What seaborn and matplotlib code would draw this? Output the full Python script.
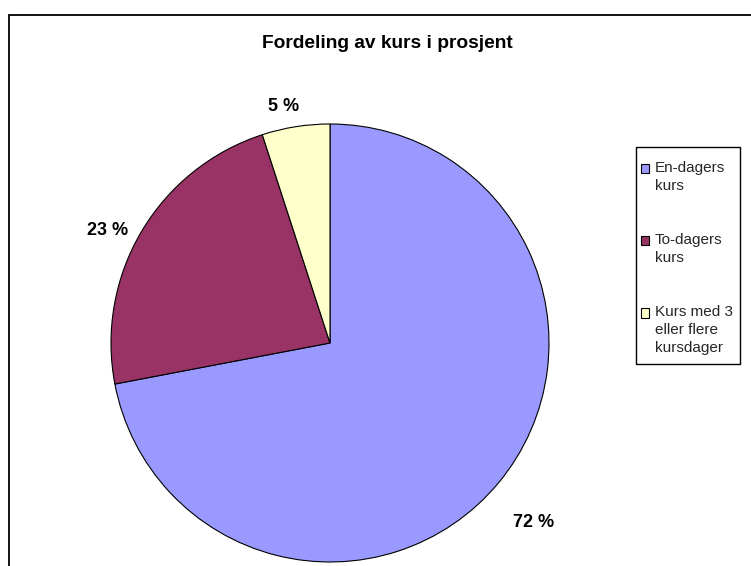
import matplotlib
matplotlib.use("Agg")
import matplotlib.pyplot as plt
from matplotlib.patches import Rectangle
from matplotlib.legend_handler import HandlerPatch
import numpy as np
import seaborn as sns

# Course distribution (percent)
categories = ["En-dagers\nkurs", "To-dagers\nkurs", "Kurs med 3\neller flere\nkursdager"]
shares = [72, 23, 5]
value_labels = ["72 %", "23 %", "5 %"]
title = "Fordeling av kurs i prosjent"

sns.set_theme(style="white")
plt.rcParams["font.family"] = ["Liberation Sans", "DejaVu Sans"]

palette = sns.color_palette(["#9999FF", "#993366", "#FFFFCC"])

W, H = 751, 566
fig = plt.figure(figsize=(W / 100, H / 100), dpi=100)
fig.patch.set_facecolor("white")

# Pie area: centre (330, 343) px, radius 219 px
cx, cy, r = 330, 343, 219
ax = fig.add_axes([(cx - r) / W, (H - cy - r) / H, 2 * r / W, 2 * r / H])
wedges, _ = ax.pie(
    shares,
    colors=palette,
    startangle=90,
    counterclock=False,
    radius=1.0,
    wedgeprops=dict(edgecolor="black", linewidth=0.8),
)
ax.set_xlim(-1, 1)
ax.set_ylim(-1, 1)
ax.set_aspect("equal")
ax.axis("off")

# Percentage labels outside each wedge: (radial factor, angular nudge in degrees)
label_place = [(1.24, -1.8), (1.136, 3.8), (1.103, 2.2)]
for w, txt, (d, nudge) in zip(wedges, value_labels, label_place):
    ang = np.deg2rad((w.theta1 + w.theta2) / 2 + nudge)
    ax.text(d * np.cos(ang), d * np.sin(ang), txt, ha="center", va="center",
            fontsize=13, fontweight="bold", color="black", clip_on=False)

# Title
fig.text(387 / W, 1 - 44 / H, title, ha="center", va="center",
         fontsize=13.8, fontweight="bold", color="black")

# Chart-area frame
fig.add_artist(Rectangle((8.5 / W, -0.1), 1.2, 1.1 - 14.5 / H, transform=fig.transFigure,
                         fill=False, edgecolor="black", linewidth=1.3))

leg_fs = 11
line_spacing = 1.36
line_step = 12.3  # points between lines of a legend label


class TopSquare(HandlerPatch):
    """Square legend key aligned with the first line of a multi-line label."""

    def __init__(self, nlines, **kw):
        super().__init__(**kw)
        self.lift = (nlines - 1) / 2 * line_step

    def create_artists(self, legend, orig_handle, xdescent, ydescent, width, height,
                       fontsize, trans):
        p = Rectangle((-xdescent, -ydescent + self.lift), width, height,
                      facecolor=orig_handle.get_facecolor(), edgecolor="black",
                      linewidth=0.8, transform=trans)
        return [p]


handles = [Rectangle((0, 0), 1, 1, facecolor=c) for c in palette]
handler_map = {h: TopSquare(lab.count("\n") + 1) for h, lab in zip(handles, categories)}
leg = fig.legend(
    handles, categories,
    loc="upper left",
    bbox_to_anchor=(641 / W, 1 - 161 / H),
    bbox_transform=fig.transFigure,
    fontsize=leg_fs,
    frameon=False,
    borderpad=0,
    borderaxespad=0,
    handlelength=0.55,
    handleheight=0.55,
    handletextpad=0.35,
    labelspacing=2.62,
    handler_map=handler_map,
)
for t in leg.get_texts():
    t.set_linespacing(line_spacing)

# Legend box
fig.add_artist(Rectangle((635.5 / W, 1 - 364 / H), 104 / W, 217 / H, transform=fig.transFigure,
                         fill=False, edgecolor="black", linewidth=1.0))

fig.savefig("out.png", dpi=100, facecolor="white")
